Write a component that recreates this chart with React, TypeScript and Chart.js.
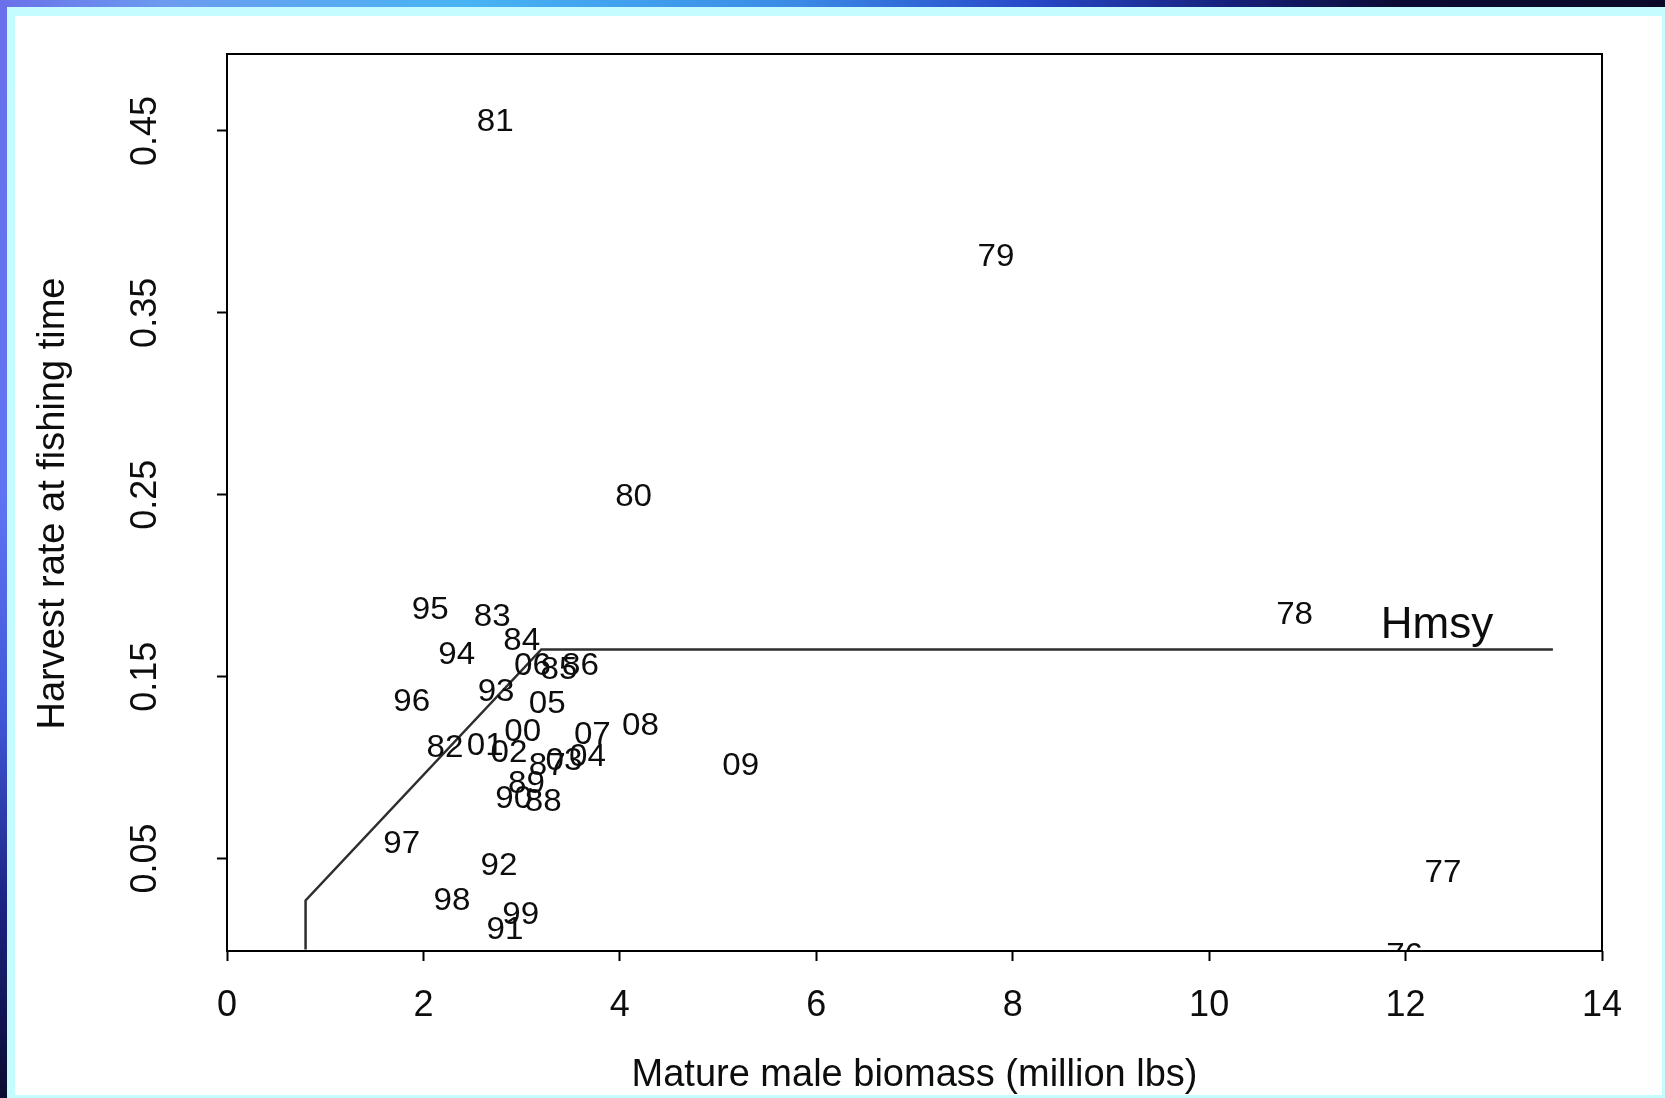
import React, { useEffect, useRef } from "react";
import { Chart, registerables } from "chart.js";

Chart.register(...registerables);

// Year labels (two-digit) placed at mature male biomass vs. harvest rate
const years = [
  "81", "79", "80", "78", "77", "76", "95", "83", "84", "94", "06", "85",
  "86", "93", "96", "05", "08", "07", "00", "82", "01", "02", "04", "03",
  "87", "09", "89", "90", "88", "97", "92", "98", "99", "91",
];
const biomass = [
  2.73, 7.83, 4.14, 10.87, 12.38, 11.99, 2.07, 2.70, 3.00, 2.34, 3.11, 3.38,
  3.60, 2.74, 1.88, 3.26, 4.21, 3.72, 3.01, 2.22, 2.63, 2.87, 3.67, 3.43,
  3.26, 5.23, 3.05, 2.92, 3.22, 1.78, 2.77, 2.29, 2.99, 2.83,
];
const harvestRate = [
  0.456, 0.382, 0.250, 0.185, 0.0435, -0.0022, 0.188, 0.184, 0.171, 0.163, 0.157, 0.155,
  0.157, 0.143, 0.137, 0.136, 0.124, 0.119, 0.121, 0.112, 0.113, 0.109, 0.107, 0.105,
  0.102, 0.102, 0.092, 0.084, 0.082, 0.059, 0.047, 0.028, 0.020, 0.012,
];

// Harvest control rule
const ruleBiomass = [0.8, 0.8, 3.2, 13.5];
const ruleRate = [0, 0.027, 0.165, 0.165];
const ruleName = "Hmsy";
const ruleNameAt = [12.32, 0.18];

// Axes
const xTicks = [0, 2, 4, 6, 8, 10, 12, 14];
const yTicks = [0.05, 0.15, 0.25, 0.35, 0.45];
const xTitle = "Mature male biomass (million lbs)";
const yTitle = "Harvest rate at fishing time";

const FONT = '"Liberation Sans", Arial, sans-serif';
const LABEL_SIZE = 31;
const LABEL_WIDEN = 1.07;
const TICK_SIZE = 36;
const TITLE_SIZE = 38;
const RULE_NAME_SIZE = 44;
const INK = "#0d0d0d";

const W = 1665;
const H = 1098;

// Draws digit-centred text: baseline shifted so the cap height is centred on y
function centredText(ctx: CanvasRenderingContext2D, text: string, x: number, y: number, size: number) {
  ctx.fillText(text, x, y + size * 0.358);
}

const decorations = {
  id: "decorations",
  afterDatasetsDraw(chart: any) {
    const { ctx, chartArea, scales } = chart;
    const xs = scales.x;
    const ys = scales.y;
    const { left, right, top, bottom } = chartArea;

    // year labels and rule name, clipped to the plot region
    ctx.save();
    ctx.beginPath();
    ctx.rect(left, top, right - left, bottom - top);
    ctx.clip();
    ctx.fillStyle = INK;
    ctx.textAlign = "center";
    ctx.textBaseline = "alphabetic";
    ctx.font = `${LABEL_SIZE}px ${FONT}`;
    years.forEach((t, i) => {
      ctx.save();
      ctx.translate(xs.getPixelForValue(biomass[i]), ys.getPixelForValue(harvestRate[i]));
      ctx.scale(LABEL_WIDEN, 1);
      centredText(ctx, t, 0, 0, LABEL_SIZE);
      ctx.restore();
    });
    ctx.font = `${RULE_NAME_SIZE}px ${FONT}`;
    centredText(ctx, ruleName, xs.getPixelForValue(ruleNameAt[0]), ys.getPixelForValue(ruleNameAt[1]), RULE_NAME_SIZE);
    ctx.restore();

    // plot box
    ctx.save();
    ctx.strokeStyle = "#000";
    ctx.lineWidth = 2;
    ctx.strokeRect(left, top, right - left, bottom - top);
    ctx.restore();

    // tick labels
    ctx.save();
    ctx.fillStyle = INK;
    ctx.textAlign = "center";
    ctx.textBaseline = "alphabetic";
    ctx.font = `${TICK_SIZE}px ${FONT}`;
    xTicks.forEach((v) => {
      centredText(ctx, String(v), xs.getPixelForValue(v), bottom + 52, TICK_SIZE);
    });
    yTicks.forEach((v) => {
      ctx.save();
      ctx.translate(left - 84, ys.getPixelForValue(v));
      ctx.rotate(-Math.PI / 2);
      centredText(ctx, v.toFixed(2), 0, 0, TICK_SIZE);
      ctx.restore();
    });

    // axis titles
    ctx.font = `${TITLE_SIZE}px ${FONT}`;
    centredText(ctx, xTitle, (left + right) / 2, bottom + 121, TITLE_SIZE);
    ctx.save();
    ctx.translate(left - 177, (top + bottom) / 2 + 1);
    ctx.rotate(-Math.PI / 2);
    centredText(ctx, yTitle, 0, 0, TITLE_SIZE);
    ctx.restore();
    ctx.restore();
  },
};

function HarvestChart() {
  const ref = useRef<HTMLCanvasElement | null>(null);

  useEffect(() => {
    if (!ref.current) return;
    const chart = new Chart(ref.current, {
      type: "scatter",
      data: {
        datasets: [
          {
            label: ruleName,
            data: ruleBiomass.map((x, i) => ({ x, y: ruleRate[i] })),
            showLine: true,
            borderColor: "#2e2e2e",
            borderWidth: 2.5,
            pointRadius: 0,
            pointHoverRadius: 0,
            fill: false,
          },
          {
            label: "Years",
            data: biomass.map((x, i) => ({ x, y: harvestRate[i] })),
            showLine: false,
            pointRadius: 0,
            pointHoverRadius: 0,
          },
        ],
      },
      options: {
        animation: false,
        responsive: false,
        devicePixelRatio: 1,
        events: [],
        layout: { padding: { top: 54, right: 63, bottom: 0, left: 0 } },
        plugins: {
          legend: { display: false },
          tooltip: { enabled: false },
          title: { display: false },
        },
        scales: {
          x: {
            type: "linear",
            position: "bottom",
            min: 0,
            max: 14,
            afterBuildTicks: (scale: any) => {
              scale.ticks = xTicks.map((value) => ({ value }));
            },
            afterFit: (scale: any) => {
              scale.height = 147;
            },
            ticks: { display: false },
            grid: {
              display: true,
              drawOnChartArea: false,
              drawTicks: true,
              tickLength: 10,
              tickWidth: 2,
              tickColor: "#000",
            },
            border: { display: false },
          },
          y: {
            type: "linear",
            position: "left",
            min: -0.0008,
            max: 0.4923,
            afterBuildTicks: (scale: any) => {
              scale.ticks = yTicks.map((value) => ({ value }));
            },
            afterFit: (scale: any) => {
              scale.width = 227;
            },
            ticks: { display: false },
            grid: {
              display: true,
              drawOnChartArea: false,
              drawTicks: true,
              tickLength: 10,
              tickWidth: 2,
              tickColor: "#000",
            },
            border: { display: false },
          },
        },
      },
      plugins: [decorations],
    });
    return () => chart.destroy();
  }, []);

  return (
    <canvas
      ref={ref}
      width={W}
      height={H}
      style={{ position: "absolute", left: 0, top: 0, width: W, height: H }}
    />
  );
}

export default function App() {
  return (
    <div
      style={{
        position: "fixed",
        left: 0,
        top: 0,
        width: W,
        height: H,
        overflow: "hidden",
        background: "#c4fcff",
      }}
    >
      <div
        style={{
          position: "absolute",
          left: 0,
          top: 0,
          width: W,
          height: 7,
          background:
            "linear-gradient(to right, #6a70ea 0%, #6c9cf0 10%, #48b4f4 28%, #3a8ae6 48%, #2848c8 62%, #16207a 74%, #0b0b34 84%, #0a0a28 100%)",
        }}
      />
      <div
        style={{
          position: "absolute",
          left: 0,
          top: 0,
          width: 7,
          height: H,
          background:
            "linear-gradient(to bottom, #6a70ea 0%, #5f74f2 45%, #4058d8 65%, #1c2484 82%, #0a0a30 100%)",
        }}
      />
      <div
        style={{
          position: "absolute",
          left: 15,
          top: 16,
          width: 1662 - 15,
          height: 1095 - 16,
          background: "#ffffff",
        }}
      />
      <HarvestChart />
    </div>
  );
}
